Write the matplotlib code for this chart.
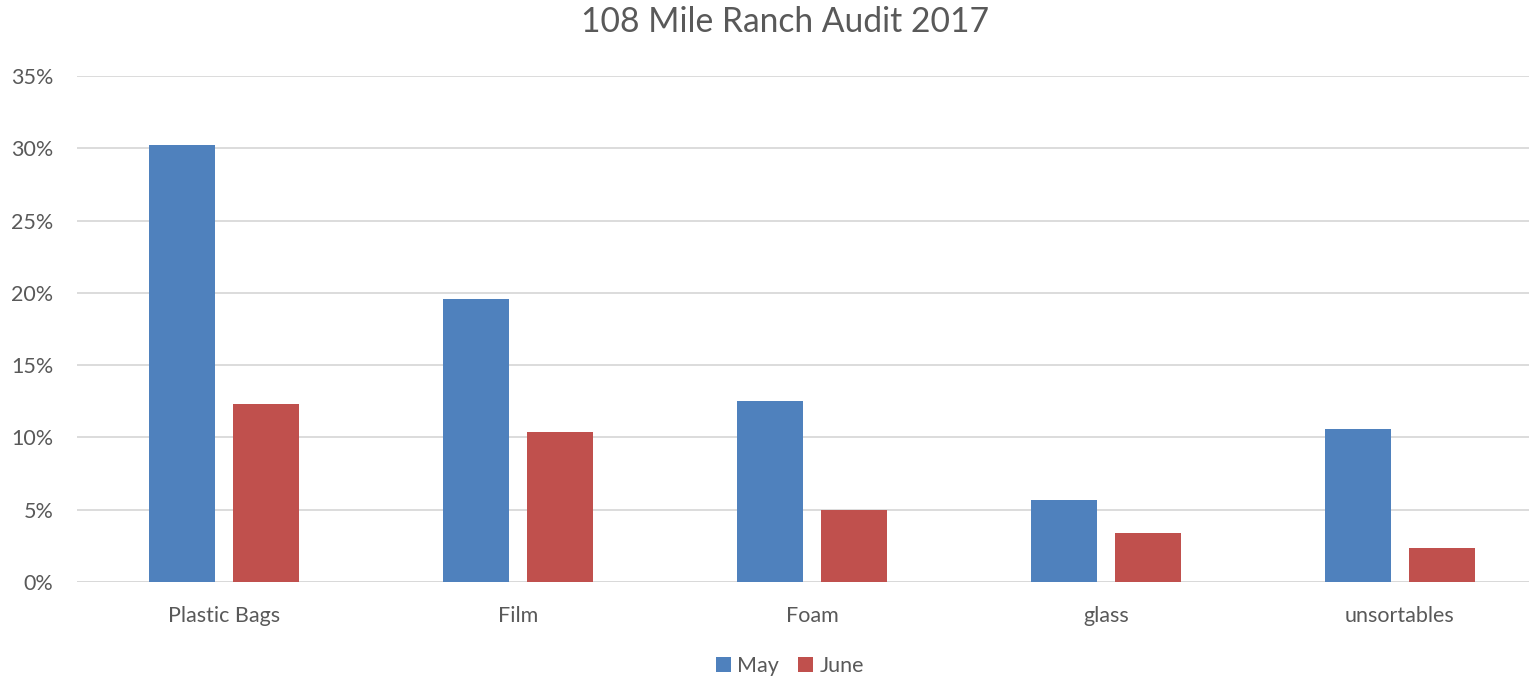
import numpy as np
import matplotlib
matplotlib.use("Agg")
import matplotlib.pyplot as plt
from matplotlib.ticker import PercentFormatter

plt.rcParams['font.family'] = ['Lato', 'DejaVu Sans']

categories = ["Plastic Bags", "Film", "Foam", "glass", "unsortables"]
may = [30.2, 19.6, 12.5, 5.65, 10.6]
june = [12.3, 10.4, 4.95, 3.4, 2.35]
yticks = [0, 5, 10, 15, 20, 25, 30, 35]

blue = "#4F81BD"
red = "#C0504D"
txt = "#595959"
grid = "#D9D9D9"

fig = plt.figure(figsize=(15.29, 6.78), dpi=100)
ax = fig.add_axes([77 / 1529, 1 - 582 / 678, 1470 / 1529, 506 / 678])

x = np.arange(len(categories))
w = 0.2245
off = 0.143
ax.bar(x - off, may, w, color=blue, label="May", zorder=3)
ax.bar(x + off, june, w, color=red, label="June", zorder=3)

ax.set_xlim(-0.5, len(categories) - 0.5)
ax.set_ylim(0, 35)
ax.set_yticks(yticks)
ax.yaxis.set_major_formatter(PercentFormatter(decimals=0))
ax.set_xticks(x)
ax.set_xticklabels(categories)
ax.yaxis.grid(True, color=grid, linewidth=1.3, zorder=0)
ax.tick_params(axis="both", length=0, colors=txt, labelsize=15.5)
ax.tick_params(axis="x", pad=17)
ax.tick_params(axis="y", pad=17)
for s in ax.spines.values():
    s.set_visible(False)
ax.axhline(0, color=grid, linewidth=1.3, zorder=1)

fig.text(785 / 1529, 1 - 22 / 678, "108 Mile Ranch Audit 2017", ha="center", va="center",
         fontsize=24.2, color=txt)

leg = fig.legend(loc="center", bbox_to_anchor=(790 / 1529, 1 - 666 / 678), ncol=2,
                 frameon=False, fontsize=15.5, handlelength=0.7, handleheight=0.7,
                 handletextpad=0.3, columnspacing=0.9)
for t in leg.get_texts():
    t.set_color(txt)

fig.savefig("out.png", dpi=100)
